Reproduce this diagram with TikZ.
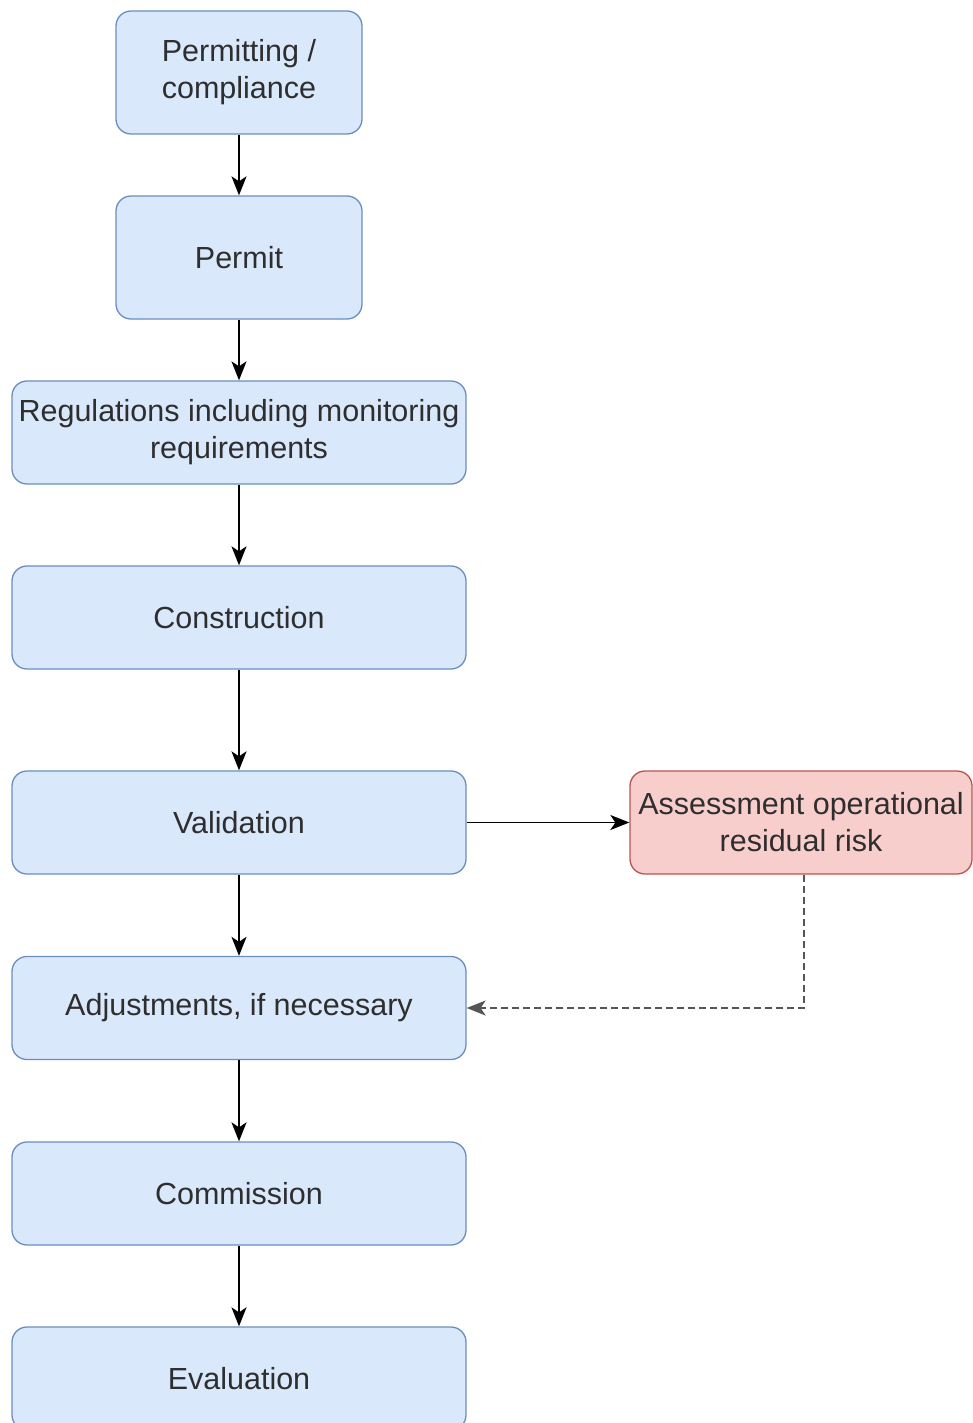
\documentclass[tikz,border=0pt]{standalone}
\usepackage{fontspec}
\setmainfont{Liberation Sans}
\usetikzlibrary{arrows.meta}
\definecolor{bfill}{HTML}{DAE8FC}
\definecolor{bdraw}{HTML}{6C8EBF}
\definecolor{rfill}{HTML}{F8CECC}
\definecolor{rdraw}{HTML}{B85450}
\definecolor{txt}{HTML}{2E2E2E}
\definecolor{dash}{HTML}{555555}
\begin{document}
\begin{tikzpicture}[x=1pt,y=-1pt,
  base/.style={rounded corners=15pt, line width=1.3pt, inner sep=0pt, align=center,
    text=txt, font=\fontsize{30.5}{37}\selectfont},
  bluebox/.style={base, fill=bfill, draw=bdraw},
  redbox/.style={base, fill=rfill, draw=rdraw},
  arr/.style={line width=1.8pt, -{Stealth[length=19pt,width=15pt,inset=5pt]}},
  darr/.style={line width=1.8pt, draw=dash, dash pattern=on 7pt off 4pt, -{Stealth[length=19pt,width=15pt,inset=5pt]}}
]
\useasboundingbox (0,0) rectangle (973,1423);
\node[bluebox, minimum width=246pt, minimum height=123pt] (n1) at (239,72.5) {Permitting /\\compliance};
\node[bluebox, minimum width=246pt, minimum height=123pt] (n2) at (239,257.5) {Permit};
\node[bluebox, minimum width=454pt, minimum height=103pt] (n3) at (239,432.5) {Regulations including monitoring\\requirements};
\node[bluebox, minimum width=454pt, minimum height=103pt] (n4) at (239,617.5) {Construction};
\node[bluebox, minimum width=454pt, minimum height=103pt] (n5) at (239,822.5) {Validation};
\node[redbox, minimum width=342pt, minimum height=103pt] (r) at (801,822.5) {Assessment operational\\residual risk};
\node[bluebox, minimum width=454pt, minimum height=103pt] (n6) at (239,1008) {Adjustments, if necessary};
\node[bluebox, minimum width=454pt, minimum height=103pt] (n7) at (239,1193.5) {Commission};
\node[bluebox, minimum width=454pt, minimum height=103pt] (n8) at (239,1378.5) {Evaluation};
\draw[arr] (n1) -- (n2);
\draw[arr] (n2) -- (n3);
\draw[arr] (n3) -- (n4);
\draw[arr] (n4) -- (n5);
\draw[arr] (n5) -- (n6);
\draw[arr] (n6) -- (n7);
\draw[arr] (n7) -- (n8);
\draw[arr] (n5) -- (r);
\draw[darr] (r.south -| 804,0) |- (n6.east);
\end{tikzpicture}
\end{document}
